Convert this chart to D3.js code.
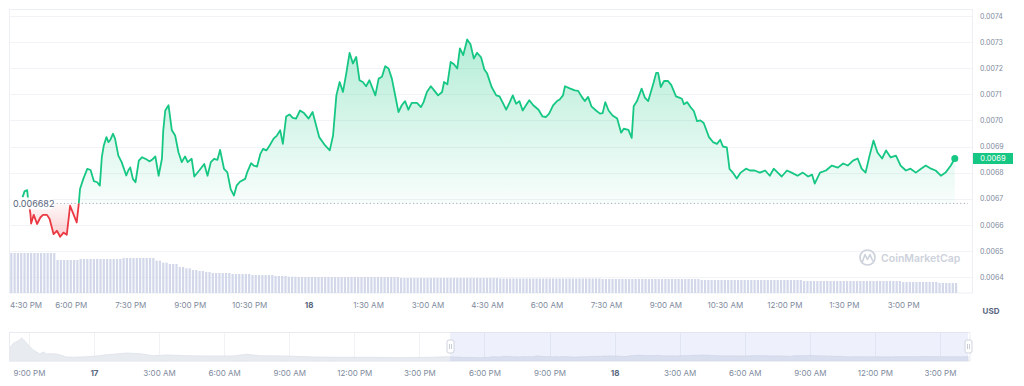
<!DOCTYPE html>
<html>
<head>
<meta charset="utf-8">
<script src="https://cdn.jsdelivr.net/npm/d3@7"></script>
<style>
  html, body { margin: 0; padding: 0; background: #fff; }
  svg { display: block; font-family: Inter, "Noto Sans", sans-serif; }
</style>
</head>
<body>
<svg width="1024" height="386"></svg>
<script>
// price samples, minutes after 4:30 PM on the 17th
const minutes = [
  17, 20, 24, 25, 29, 30, 34, 39, 44, 48,
  54, 58, 64, 69, 74, 79, 84, 89, 94, 99,
  102, 104, 109, 115, 120, 125, 130, 134, 137, 140,
  144, 147, 150, 154, 157, 162, 167, 174, 177, 180,
  184, 188, 193, 198, 205, 209, 213, 218, 223, 228,
  230, 233, 238, 243, 248, 253, 258, 263, 267, 273,
  277, 285, 292, 297, 302, 307, 312, 316, 322, 327,
  332, 337, 341, 346, 354, 357, 363, 367, 372, 377,
  381, 386, 391, 397, 402, 407, 411, 416, 421, 426,
  431, 437, 443, 450, 456, 466, 475, 482, 487, 492,
  497, 502, 507, 512, 517, 522, 527, 532, 537, 542,
  551, 556, 561, 566, 571, 576, 586, 591, 596, 601,
  606, 614, 620, 624, 629, 635, 640, 646, 652, 655,
  660, 665, 670, 675, 679, 684, 690, 695, 700, 705,
  711, 716, 720, 727, 734, 739, 744, 749, 754, 759,
  764, 769, 774, 779, 784, 790, 798, 804, 809, 814,
  820, 826, 830, 835, 838, 846, 853, 858, 863, 868,
  873, 878, 885, 891, 895, 899, 904, 910, 917, 923,
  927, 934, 939, 942, 947, 954, 959, 964, 972, 976,
  979, 983, 988, 994, 999, 1006, 1011, 1015, 1018, 1023,
  1028, 1033, 1038, 1043, 1048, 1056, 1062, 1068, 1073, 1077,
  1083, 1087, 1092, 1098, 1104, 1112, 1118, 1125, 1133, 1141,
  1148, 1154, 1160, 1166, 1174, 1181, 1190, 1198, 1206, 1212,
  1216, 1224, 1233, 1242, 1251, 1259, 1266, 1274, 1281, 1287,
  1293, 1299, 1305, 1311, 1318, 1324, 1331, 1339, 1346, 1354,
  1361, 1369, 1377, 1384, 1392, 1399, 1407, 1414, 1422, 1428
];
const prices = [
  0.006705, 0.006728, 0.006733, 0.006708, 0.006641, 0.006605, 0.006638, 0.006603, 0.006628, 0.006638,
  0.006638, 0.006622, 0.006564, 0.006577, 0.006554, 0.006570, 0.006562, 0.006673, 0.006641, 0.006609,
  0.006677, 0.006737, 0.006776, 0.006814, 0.006810, 0.006767, 0.006763, 0.006750, 0.006859, 0.006904,
  0.006936, 0.006917, 0.006926, 0.006949, 0.006930, 0.006865, 0.006840, 0.006789, 0.006808, 0.006820,
  0.006776, 0.006763, 0.006846, 0.006859, 0.006850, 0.006843, 0.006849, 0.006862, 0.006788, 0.006853,
  0.006962, 0.007038, 0.007058, 0.006962, 0.006942, 0.006878, 0.006840, 0.006862, 0.006840, 0.006853,
  0.006785, 0.006810, 0.006833, 0.006788, 0.006840, 0.006853, 0.006849, 0.006887, 0.006814, 0.006801,
  0.006737, 0.006712, 0.006750, 0.006765, 0.006776, 0.006801, 0.006836, 0.006827, 0.006823, 0.006872,
  0.006891, 0.006885, 0.006904, 0.006930, 0.006942, 0.006962, 0.006910, 0.007015, 0.007023, 0.007010,
  0.007007, 0.007038, 0.007028, 0.007007, 0.007032, 0.006936, 0.006904, 0.006885, 0.006942, 0.007096,
  0.007147, 0.007109, 0.007180, 0.007259, 0.007218, 0.007243, 0.007154, 0.007147, 0.007131, 0.007154,
  0.007096, 0.007160, 0.007167, 0.007208, 0.007199, 0.007160, 0.007032, 0.007058, 0.007074, 0.007041,
  0.007067, 0.007067, 0.007051, 0.007070, 0.007109, 0.007131, 0.007115, 0.007096, 0.007109, 0.007147,
  0.007138, 0.007224, 0.007215, 0.007199, 0.007276, 0.007250, 0.007310, 0.007292, 0.007237, 0.007259,
  0.007242, 0.007195, 0.007181, 0.007128, 0.007096, 0.007092, 0.007067, 0.007041, 0.007067, 0.007096,
  0.007064, 0.007074, 0.007038, 0.007058, 0.007077, 0.007058, 0.007041, 0.007015, 0.007013, 0.007026,
  0.007058, 0.007074, 0.007080, 0.007096, 0.007131, 0.007122, 0.007115, 0.007113, 0.007092, 0.007074,
  0.007090, 0.007054, 0.007038, 0.007026, 0.007028, 0.007070, 0.007038, 0.007019, 0.007007, 0.006953,
  0.006968, 0.006964, 0.006933, 0.007054, 0.007074, 0.007122, 0.007087, 0.007074, 0.007143, 0.007182,
  0.007182, 0.007128, 0.007151, 0.007151, 0.007135, 0.007092, 0.007087, 0.007083, 0.007062, 0.007070,
  0.007051, 0.007036, 0.006997, 0.007000, 0.006990, 0.006936, 0.006917, 0.006910, 0.006926, 0.006900,
  0.006897, 0.006814, 0.006800, 0.006777, 0.006800, 0.006815, 0.006808, 0.006808, 0.006800, 0.006808,
  0.006788, 0.006815, 0.006800, 0.006785, 0.006808, 0.006800, 0.006788, 0.006800, 0.006785, 0.006792,
  0.006758, 0.006800, 0.006808, 0.006827, 0.006819, 0.006835, 0.006827, 0.006846, 0.006854, 0.006815,
  0.006800, 0.006865, 0.006923, 0.006877, 0.006854, 0.006885, 0.006858, 0.006865, 0.006827, 0.006808,
  0.006815, 0.006800, 0.006815, 0.006827, 0.006815, 0.006808, 0.006788, 0.006800, 0.006827, 0.006854
];
const openPrice = 0.006682;
const lastPriceLabel = "0.0069";
const priceTicks = [0.0064, 0.0065, 0.0066, 0.0067, 0.0068, 0.0069, 0.0070, 0.0071, 0.0072, 0.0073, 0.0074];

// volume bars (5 min each), as levels and how many bars share each level
const volumeLevels = [40, 33, 34, 35, 32.3, 30.3, 29, 26, 24.7, 23, 22, 21, 20, 19, 18, 17, 16.3, 16, 15, 14.5, 14, 13, 12, 11, 10];
const volumeCounts = [14, 7, 13, 10, 2, 2, 3, 2, 2, 2, 2, 2, 6, 6, 7, 4, 3, 31, 30, 31, 30, 31, 30, 11, 6];

// navigator history before the 24h window, minutes after 9:00 PM on the 16th
const navMinutes = [-53, -43, -30, -20, -14, -2, 12, 30, 40, 49, 58, 77, 104, 123, 160, 196, 215, 233, 270, 307,
  344, 381, 436, 491, 565, 602, 639, 713, 786, 842, 934, 1026, 1118, 1156];
const navPrices = [0.00926, 0.0106, 0.01121, 0.01204, 0.01148, 0.01009, 0.00871, 0.0076, 0.00815, 0.0076,
  0.00768, 0.0076, 0.00676, 0.00668, 0.00684, 0.00712, 0.0074, 0.00751, 0.00787, 0.00768,
  0.00712, 0.00732, 0.00712, 0.00704, 0.00704, 0.00751, 0.00712, 0.00704, 0.00676, 0.00668,
  0.00668, 0.00657, 0.00668, 0.00684];

const green = "#16c784";
const red = "#ea3943";
const axisGrey = "#808a9d";
const textDark = "#58667e";

const svg = d3.select("svg");
const addMin = (d, m) => new Date(d.getTime() + m * 60000);
const t0 = new Date(2023, 9, 17, 16, 30);
const n0 = new Date(2023, 9, 16, 21, 0);

const data = minutes.map((m, i) => ({ date: addMin(t0, m), price: prices[i] }));

// scales
const x = d3.scaleTime()
  .domain([new Date(2023, 9, 17, 16, 25), new Date(2023, 9, 18, 16, 38)])
  .range([8, 968]);
const y = d3.scaleLinear().domain([0.0064, 0.0074]).range([277, 16]);
const yVol = d3.scaleLinear().domain([0, 40]).range([293, 253]);

const defs = svg.append("defs");

// grid
svg.append("g").selectAll("line").data(priceTicks).join("line")
  .attr("x1", 10).attr("x2", 972)
  .attr("y1", d => Math.round(y(d)) + 0.5).attr("y2", d => Math.round(y(d)) + 0.5)
  .attr("stroke", "#f1f3f6");

svg.append("rect")
  .attr("x", 9.5).attr("y", 9.5).attr("width", 963).attr("height", 283.5)
  .attr("fill", "none").attr("stroke", "#eceff3");

// volume
const volume = volumeLevels.flatMap((v, i) => Array(volumeCounts[i]).fill(v));
svg.append("g").selectAll("rect").data(volume).join("rect")
  .attr("x", (d, i) => x(addMin(t0, i * 5)) - 1.1)
  .attr("width", 2.2)
  .attr("y", d => yVol(d))
  .attr("height", d => yVol(0) - yVol(d))
  .attr("fill", "#d2d8ea");

// baseline split: green above, red below
const base = y(openPrice);
defs.append("clipPath").attr("id", "above")
  .append("rect").attr("x", 0).attr("y", 0).attr("width", 1024).attr("height", base);
defs.append("clipPath").attr("id", "below")
  .append("rect").attr("x", 0).attr("y", base).attr("width", 1024).attr("height", 386 - base);

const gGreen = defs.append("linearGradient").attr("id", "gGreen")
  .attr("gradientUnits", "userSpaceOnUse")
  .attr("x1", 0).attr("x2", 0).attr("y1", y(d3.max(prices))).attr("y2", base);
gGreen.append("stop").attr("offset", 0).attr("stop-color", green).attr("stop-opacity", 0.32);
gGreen.append("stop").attr("offset", 1).attr("stop-color", green).attr("stop-opacity", 0.03);

const gRed = defs.append("linearGradient").attr("id", "gRed")
  .attr("gradientUnits", "userSpaceOnUse")
  .attr("x1", 0).attr("x2", 0).attr("y1", base).attr("y2", y(d3.min(prices)));
gRed.append("stop").attr("offset", 0).attr("stop-color", red).attr("stop-opacity", 0.03);
gRed.append("stop").attr("offset", 1).attr("stop-color", red).attr("stop-opacity", 0.25);

const area = d3.area().x(d => x(d.date)).y0(base).y1(d => y(d.price));
const line = d3.line().x(d => x(d.date)).y(d => y(d.price));

svg.append("path").datum(data).attr("d", area).attr("fill", "url(#gGreen)").attr("clip-path", "url(#above)");
svg.append("path").datum(data).attr("d", area).attr("fill", "url(#gRed)").attr("clip-path", "url(#below)");

// dotted baseline
svg.append("line")
  .attr("x1", 53).attr("x2", 968).attr("y1", base).attr("y2", base)
  .attr("stroke", "#a3acbd").attr("stroke-dasharray", "1.2,2.4");

svg.append("path").datum(data).attr("d", line)
  .attr("fill", "none").attr("stroke", green).attr("stroke-width", 1.8)
  .attr("stroke-linejoin", "round").attr("clip-path", "url(#above)");
svg.append("path").datum(data).attr("d", line)
  .attr("fill", "none").attr("stroke", red).attr("stroke-width", 1.8)
  .attr("stroke-linejoin", "round").attr("clip-path", "url(#below)");

// opening price label sits over the line on a white box
svg.append("rect")
  .attr("x", 11).attr("y", base - 6).attr("width", 41).attr("height", 12)
  .attr("fill", "#fff").attr("fill-opacity", 0.92);
svg.append("text")
  .attr("x", 13).attr("y", base).attr("dy", "0.35em")
  .attr("fill", textDark).style("font-size", "9px")
  .text(d3.format(".6f")(openPrice));

const last = data[data.length - 1];
svg.append("circle")
  .attr("cx", x(last.date)).attr("cy", y(last.price)).attr("r", 3.5).attr("fill", green);

// watermark
const wm = svg.append("g").attr("fill", "none").attr("stroke", "#cdd2dc");
wm.append("circle").attr("cx", 867.5).attr("cy", 257.5).attr("r", 7.5).attr("stroke-width", 1.7);
wm.append("path").attr("d", "M862.5,261.5 L865,254.5 L867.5,259.5 L870,254.5 L872.5,260.5")
  .attr("stroke-width", 1.6).attr("stroke-linejoin", "round").attr("stroke-linecap", "round");
svg.append("text")
  .attr("x", 881).attr("y", 261.5)
  .attr("fill", "#cdd2dc").style("font-size", "10.5px").style("font-weight", 600)
  .text("CoinMarketCap");

// right price axis
svg.append("g").attr("transform", "translate(972,0)")
  .call(d3.axisRight(y).tickValues(priceTicks).tickSize(0).tickPadding(8).tickFormat(d3.format(".4f")))
  .call(g => g.select(".domain").remove())
  .call(g => g.attr("font-family", null).attr("font-size", null))
  .call(g => g.selectAll("text").attr("fill", axisGrey).style("font-size", "7px"));

// last price tag
svg.append("rect")
  .attr("x", 973).attr("y", y(last.price) - 5.5).attr("width", 40).attr("height", 11)
  .attr("fill", green);
svg.append("text")
  .attr("x", 993).attr("y", y(last.price)).attr("dy", "0.35em")
  .attr("text-anchor", "middle").attr("fill", "#fff").style("font-size", "7.5px")
  .text(lastPriceLabel);

// time labels
const isMidnight = d => d.getHours() === 0 && d.getMinutes() === 0;
const timeLabel = d => isMidnight(d) ? d3.timeFormat("%-d")(d) : d3.timeFormat("%-I:%M %p")(d);

const xTicks = d3.range(16).map(i => addMin(t0, i * 90));
svg.append("g").attr("transform", "translate(0,293)")
  .call(d3.axisBottom(x).tickValues(xTicks).tickSize(0).tickPadding(9).tickFormat(timeLabel))
  .call(g => g.select(".domain").remove())
  .call(g => g.attr("font-family", null).attr("font-size", null))
  .call(g => g.selectAll("text")
    .attr("fill", d => isMidnight(d) ? textDark : axisGrey)
    .style("font-weight", d => isMidnight(d) ? 700 : 400)
    .style("font-size", "8px"))
  .call(g => g.select(".tick text").attr("text-anchor", "start").attr("x", 9.5 - x(xTicks[0])));

svg.append("text")
  .attr("x", 991).attr("y", 311).attr("dy", "0.35em").attr("text-anchor", "middle")
  .attr("fill", textDark).style("font-size", "8px").style("font-weight", 700)
  .text("USD");

// navigator
const xNav = d3.scaleTime()
  .domain([new Date(2023, 9, 16, 20, 5), new Date(2023, 9, 18, 16, 23)])
  .range([9, 970]);
const yNav = d3.scaleLinear().domain([0.00565, 0.0137]).range([361, 332]);
const navData = navMinutes.map((m, i) => ({ date: addMin(n0, m), price: navPrices[i] })).concat(data);
const navTicks = d3.range(15).map(i => addMin(n0, i * 180));

svg.append("g").selectAll("line").data(navTicks).join("line")
  .attr("x1", d => Math.round(xNav(d)) + 0.5).attr("x2", d => Math.round(xNav(d)) + 0.5)
  .attr("y1", 332).attr("y2", 361)
  .attr("stroke", "#f0f2f5");

defs.append("clipPath").attr("id", "navClip")
  .append("rect").attr("x", 9).attr("y", 330).attr("width", 961).attr("height", 32);

svg.append("path").datum(navData)
  .attr("d", d3.area().x(d => xNav(d.date)).y0(361).y1(d => yNav(d.price)))
  .attr("fill", "#e8ebf0").attr("stroke", "#dde1e8").attr("stroke-width", 0.8)
  .attr("clip-path", "url(#navClip)");

svg.append("rect")
  .attr("x", 9.5).attr("y", 332.5).attr("width", 960.5).attr("height", 28.5)
  .attr("fill", "none").attr("stroke", "#e8ebf0");

const selStart = xNav(x.domain()[0]);
const selEnd = 968;
svg.append("rect")
  .attr("x", selStart).attr("y", 332.5).attr("width", selEnd - selStart).attr("height", 28.5)
  .attr("fill", "rgba(100,130,225,0.11)");

const handles = svg.append("g").selectAll("g").data([selStart, selEnd]).join("g")
  .attr("transform", d => `translate(${Math.round(d) + 0.5},346.5)`);
handles.append("rect")
  .attr("x", -3.5).attr("y", -6.5).attr("width", 7).attr("height", 13).attr("rx", 2)
  .attr("fill", "#fff").attr("stroke", "#cfd4de");
handles.append("path")
  .attr("d", "M-1,-2.5 V2.5 M1,-2.5 V2.5")
  .attr("stroke", "#b8bfcc").attr("stroke-width", 0.8);

svg.append("g").attr("transform", "translate(0,361)")
  .call(d3.axisBottom(xNav).tickValues(navTicks).tickSize(0).tickPadding(9).tickFormat(timeLabel))
  .call(g => g.select(".domain").remove())
  .call(g => g.attr("font-family", null).attr("font-size", null))
  .call(g => g.selectAll("text")
    .attr("fill", d => isMidnight(d) ? textDark : axisGrey)
    .style("font-weight", d => isMidnight(d) ? 700 : 400)
    .style("font-size", "8px"));
</script>
</body>
</html>
